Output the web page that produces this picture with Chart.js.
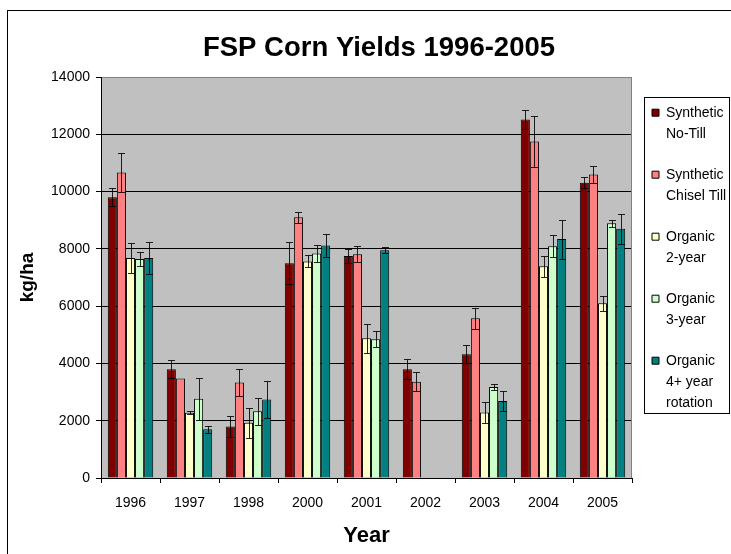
<!DOCTYPE html>
<html>
<head>
<meta charset="utf-8">
<script src="https://cdn.jsdelivr.net/npm/chart.js@4.4.0/dist/chart.umd.min.js"></script>
<style>
  html, body { margin: 0; padding: 0; background: #fff; }
</style>
</head>
<body>
<canvas id="myChart" width="731" height="554"></canvas>
<script>
var years = ["1996", "1997", "1998", "2000", "2001", "2002", "2003", "2004", "2005"];

// mean yields (kg/ha) and error bar half-widths
var noTill      = [9800, 3800, 1800, 7500, 7750, 3800, 4320, 12520, 10310];
var noTillErr   = [320, 320, 370, 740, 250, 350, 310, 330, 200];
var chisel      = [10670, 3470, 3330, 9100, 7810, 3360, 5580, 11750, 10600];
var chiselErr   = [680, null, 460, 180, 280, 340, 370, 900, 290];
var organic2    = [7680, 2280, 1930, 7560, 4880, null, 2290, 7390, 6100];
var organic2Err = [530, 60, 520, 210, 500, null, 370, 370, 260];
var organic3    = [7650, 2770, 2330, 7840, 4840, null, 3180, 8090, 8890];
var organic3Err = [240, 730, 480, 310, 280, null, 110, 390, 120];
var organic4    = [7680, 1700, 2740, 8120, 7950, null, 2690, 8340, 8700];
var organic4Err = [560, 120, 650, 400, 100, null, 360, 680, 520];

var seriesNames = [
  ["Synthetic", "No-Till"],
  ["Synthetic", "Chisel Till"],
  ["Organic", "2-year"],
  ["Organic", "3-year"],
  ["Organic", "4+ year", "rotation"]
];
var seriesColors = ["#800000", "#FF8080", "#FFFFCC", "#CCFFCC", "#008080"];

Chart.defaults.font.family = "'Liberation Sans', Arial, sans-serif";
Chart.defaults.color = "#000";

// plot background, frame and legend box
var frame = {
  id: "frame",
  beforeDraw: function(chart) {
    var ctx = chart.ctx, a = chart.chartArea;
    ctx.save();
    ctx.fillStyle = "#C0C0C0";
    ctx.fillRect(a.left, a.top, a.right - a.left, a.bottom - a.top);
    ctx.strokeStyle = "#000";
    ctx.lineWidth = 1;
    ctx.strokeRect(7.5, 10.5, 900, 700);
    ctx.restore();
  },
  beforeDatasetsDraw: function(chart) {
    var ctx = chart.ctx, a = chart.chartArea;
    ctx.save();
    ctx.strokeStyle = "#808080";
    ctx.beginPath();
    ctx.moveTo(a.right - 0.5, a.top);
    ctx.lineTo(a.right - 0.5, a.bottom);
    ctx.stroke();
    ctx.restore();
  },
  afterDraw: function(chart) {
    var ctx = chart.ctx, lg = chart.legend;
    ctx.save();
    ctx.strokeStyle = "#000";
    ctx.lineWidth = 1;
    ctx.strokeRect(Math.round(lg.left + 12) + 0.5, Math.round(lg.top + 20) + 0.5, Math.round(lg.right - lg.left - 14), 316);
    ctx.restore();
  }
};

var errorBars = {
  id: "errorBars",
  afterDatasetsDraw: function(chart) {
    var ctx = chart.ctx, yScale = chart.scales.y;
    ctx.save();
    ctx.strokeStyle = "rgba(0,0,0,0.85)";
    ctx.lineWidth = 1;
    chart.data.datasets.forEach(function(ds, i) {
      var meta = chart.getDatasetMeta(i);
      meta.data.forEach(function(bar, j) {
        var v = ds.data[j], e = ds.errors[j];
        if (v == null || !e) return;
        var x = Math.round(bar.x) + 0.5;
        var top = Math.round(yScale.getPixelForValue(v + e)) + 0.5;
        var bot = Math.round(yScale.getPixelForValue(v - e)) + 0.5;
        ctx.beginPath();
        ctx.moveTo(x, top); ctx.lineTo(x, bot);
        ctx.moveTo(x - 3.5, top); ctx.lineTo(x + 3.5, top);
        ctx.moveTo(x - 3.5, bot); ctx.lineTo(x + 3.5, bot);
        ctx.stroke();
      });
    });
    ctx.restore();
  }
};

var values = [noTill, chisel, organic2, organic3, organic4];
var errs = [noTillErr, chiselErr, organic2Err, organic3Err, organic4Err];

new Chart("myChart", {
  type: "bar",
  data: {
    labels: years,
    datasets: values.map(function(v, i) {
      return {
        label: seriesNames[i],
        data: v,
        errors: errs[i],
        backgroundColor: seriesColors[i],
        borderColor: "#000",
        borderWidth: 1,
        categoryPercentage: 0.77,
        barPercentage: 1.0
      };
    })
  },
  options: {
    responsive: false,
    animation: false,
    devicePixelRatio: 1,
    layout: { padding: { left: 27, top: 10, right: 0, bottom: 0 } },
    plugins: {
      title: {
        display: true,
        text: "FSP Corn Yields 1996-2005",
        color: "#000",
        font: { size: 27.5, weight: "bold" },
        padding: { top: 22, bottom: 12 }
      },
      legend: {
        position: "right",
        align: "start",
        fullSize: false,
        maxWidth: 99,
        title: { display: true, text: "", font: { size: 6, lineHeight: 1 }, padding: { top: 2.7, bottom: 0 } },
        labels: {
          color: "#000",
          boxWidth: 7,
          boxHeight: 7,
          padding: 20,
          font: { size: 14, lineHeight: 1.5 }
        }
      },
      tooltip: { enabled: false }
    },
    scales: {
      x: {
        grid: { display: true, drawOnChartArea: false, drawTicks: true, tickLength: 5, color: "#000", offset: true },
        border: { color: "#000", width: 1 },
        ticks: { color: "#000", font: { size: 14 }, padding: 11.5 },
        title: { display: true, text: "Year", color: "#000", font: { size: 22, weight: "bold" }, padding: { top: 13, bottom: 4.4 } },
        afterFit: function(s) { s.height = 76; }
      },
      y: {
        min: 0,
        max: 14000,
        ticks: {
          stepSize: 2000,
          color: "#000",
          font: { size: 14 },
          padding: 6,
          callback: function(v) { return String(v); }
        },
        grid: {
          color: function(c) { return c.tick && c.tick.value === 14000 ? "#808080" : "#000"; },
          tickColor: "#000",
          tickLength: 5
        },
        border: { color: "#000", width: 1 },
        title: { display: true, text: "kg/ha", color: "#000", font: { size: 19, weight: "bold" }, padding: { top: -10.4, bottom: 0 } },
        afterFit: function(s) { s.width = 74; }
      }
    }
  },
  plugins: [frame, errorBars]
});
</script>
</body>
</html>
